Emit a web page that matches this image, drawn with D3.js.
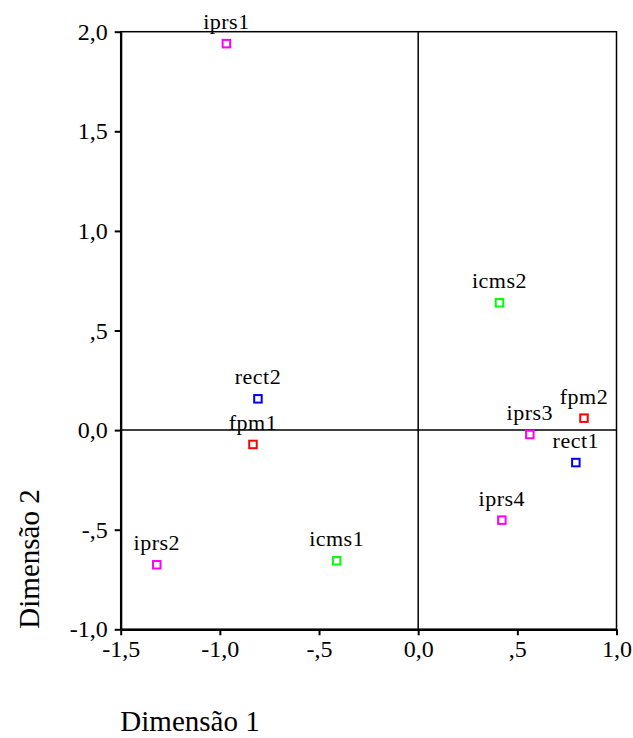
<!DOCTYPE html>
<html><head><meta charset="utf-8">
<script src="https://cdn.jsdelivr.net/npm/d3@7"></script>
<style>body{margin:0;background:#fff}svg{display:block}</style>
</head><body>
<svg id="c" width="633" height="738" font-family="Liberation Serif, Times New Roman, serif"></svg>
<script>
const labels = ["iprs1","rect2","fpm1","iprs2","icms1","icms2","fpm2","iprs3","rect1","iprs4"];
const dim1 =   [-0.967,-0.808,-0.833,-1.318,-0.411,0.410,0.836,0.563,0.795,0.422];
const dim2 =   [1.940,0.157,-0.072,-0.676,-0.656,0.639,0.060,-0.022,-0.163,-0.452];
const colors = ["#ff00ff","#0000ff","#ff0000","#ff00ff","#00ff00","#00ff00","#ff0000","#ff00ff","#0000ff","#ff00ff"];
const xTicks = [-1.5,-1.0,-0.5,0.0,0.5,1.0];
const xTickLabels = ["-1,5","-1,0","-,5","0,0",",5","1,0"];
const yTicks = [2.0,1.5,1.0,0.5,0.0,-0.5,-1.0];
const yTickLabels = ["2,0","1,5","1,0",",5","0,0","-,5","-1,0"];

const FONT = "Liberation Serif";
const svg = d3.select("#c");
const x = d3.scaleLinear().domain([-1.5,1.0]).range([120.7,616.5]);
const y = d3.scaleLinear().domain([-1.0,2.0]).range([629.3,31.7]);

// frame
svg.append("rect").attr("x",x(-1.5)).attr("y",y(2)).attr("width",x(1)-x(-1.5)).attr("height",y(-1)-y(2))
  .attr("fill","none").attr("stroke","#000").attr("stroke-width",1.5);
// zero lines
svg.append("line").attr("x1",x(0)).attr("x2",x(0)).attr("y1",y(2)).attr("y2",y(-1)).attr("stroke","#000").attr("stroke-width",1.5);
svg.append("line").attr("x1",x(-1.5)).attr("x2",x(1)).attr("y1",y(0)).attr("y2",y(0)).attr("stroke","#000").attr("stroke-width",1.5);

// axes
const xAxis = d3.axisBottom(x).tickValues(xTicks).tickFormat((d,i)=>xTickLabels[i]).tickSizeInner(6).tickSizeOuter(0).tickPadding(5);
const yAxis = d3.axisLeft(y).tickValues(yTicks).tickFormat((d,i)=>yTickLabels[i]).tickSizeInner(6).tickSizeOuter(0).tickPadding(7);
const gx = svg.append("g").attr("transform",`translate(0,${y(-1)})`).call(xAxis);
const gy = svg.append("g").attr("transform",`translate(${x(-1.5)},0)`).call(yAxis);
[gx,gy].forEach(g=>{
  g.attr("font-family",FONT).attr("font-size",24);
  g.selectAll("path.domain").attr("stroke","#000").attr("stroke-width",2.2);
  g.selectAll(".tick line").attr("stroke","#000").attr("stroke-width",2);
  g.selectAll(".tick text").attr("fill","#000");
});

// points
const data = labels.map((l,i)=>({l,x:dim1[i],y:dim2[i],c:colors[i]}));
const s = 7.5;
svg.selectAll("rect.pt").data(data).enter().append("rect").attr("class","pt")
  .attr("x",d=>x(d.x)-s/2).attr("y",d=>y(d.y)-s/2).attr("width",s).attr("height",s)
  .attr("fill","none").attr("stroke",d=>d.c).attr("stroke-width",2);
svg.selectAll("text.lb").data(data).enter().append("text").attr("class","lb")
  .attr("x",d=>x(d.x)).attr("y",d=>y(d.y)-14.5).attr("text-anchor","middle")
  .attr("font-family",FONT).attr("font-size",22).attr("letter-spacing",0.5).text(d=>d.l);

// axis titles
svg.append("text").attr("x",190).attr("y",731).attr("text-anchor","middle").attr("font-family",FONT).attr("font-size",29).text("Dimensão 1");
svg.append("text").attr("transform","translate(39,559) rotate(-90)").attr("text-anchor","middle").attr("font-family",FONT).attr("font-size",29).text("Dimensão 2");
</script>
</body></html>
